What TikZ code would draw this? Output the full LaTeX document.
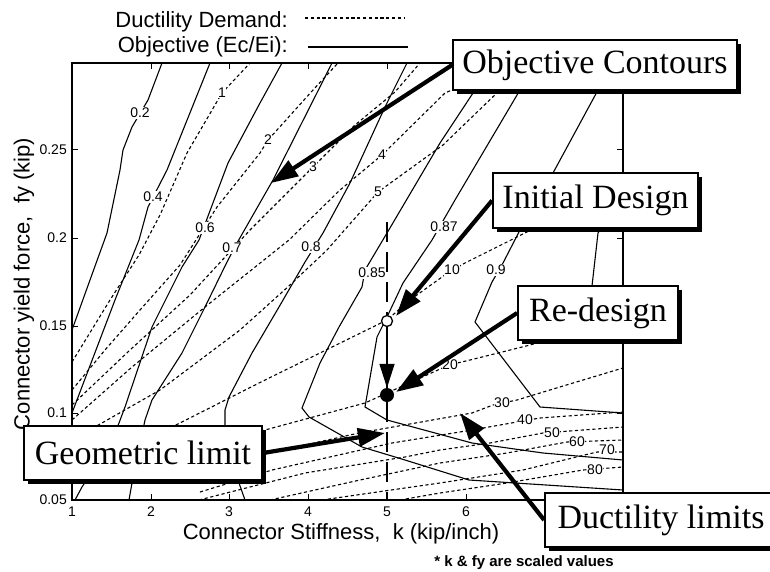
\documentclass[tikz,border=0pt]{standalone}
\usepackage{fontspec}
\setmainfont{Liberation Serif}
\setsansfont{Liberation Sans}
\usetikzlibrary{arrows.meta,shadows}
\begin{document}
\begin{tikzpicture}[x=1pt,y=-1pt,
  obj/.style={line width=1.1pt},
  duct/.style={line width=1.1pt, dash pattern=on 3.2pt off 2.6pt},
  lab/.style={font=\sffamily\fontsize{14}{14}\selectfont, fill=white, inner sep=0.6pt},
  tlab/.style={font=\sffamily\fontsize{14}{14}\selectfont, inner sep=0pt},
  axlab/.style={font=\sffamily\fontsize{22}{22}\selectfont, inner sep=0pt},
  callout/.style={draw, line width=1.8pt, fill=white, inner sep=0pt,
     font=\fontsize{34}{36}\selectfont,
     drop shadow={shadow xshift=4pt, shadow yshift=-4pt, opacity=1, fill=black}},
  pointer/.style={line width=4.2pt, -{Triangle[length=27pt,width=18pt]}}]
\useasboundingbox (0,0) rectangle (770,572);

% ---------- legend ----------
\node[axlab, anchor=base east] (legd) at (288,28) {Ductility Demand:};
\node[axlab, anchor=base east] (lego) at (288,53) {Objective (Ec/Ei):};
\coordinate (ld1) at (305,18); \coordinate (ld2) at (405,18);
\coordinate (lo1) at (308,47); \coordinate (lo2) at (408,47);
\draw[duct] (ld1) -- (ld2);
\draw[line width=1.5pt] (lo1) -- (lo2);

% ---------- objective contours (solid) ----------
\draw[obj] (162,63) -- (148,100) -- (132,127) -- (123,150) -- (120,170) -- (107,233) -- (90,280) -- (72,330);
\draw[obj] (210,63) -- (167,170) -- (148,207) -- (139,240) -- (115,300) -- (72,413);
\draw[obj] (282,63) -- (260,103) -- (228,163) -- (199,240) -- (182,267) -- (152,327) -- (125,407) -- (119,423) -- (110,445) -- (82,487) -- (75,500);
\draw[obj] (332,63) -- (273,180) -- (237,243) -- (227,262) -- (205,307) -- (182,353) -- (152,400) -- (145,420) -- (140,445) -- (132,483) -- (129,500);
\draw[obj] (407,63) -- (385,107) -- (350,183) -- (323,233) -- (305,262) -- (279,307) -- (252,353) -- (229,397) -- (225,410) -- (225,440) -- (239,483) -- (245,500);
\draw[obj] (475,90) -- (440,143) -- (387,233) -- (365,270) -- (362,287) -- (339,327) -- (320,363) -- (302,408) -- (309,417) -- (362,447) -- (405,460) -- (469,480) -- (623,490);
\draw[obj] (520,90) -- (455,200) -- (432,240) -- (403,283) -- (387,317) -- (377,337) -- (365,407) -- (387,420) -- (472,443) -- (543,453) -- (623,460);
\draw[obj] (598,90) -- (553,173) -- (520,230) -- (503,263) -- (492,282) -- (475,322) -- (540,407) -- (623,413);
\draw[obj] (623,195) -- (598,233) -- (592,286) -- (623,320);

% ---------- ductility demand contours (dashed) ----------
\draw[duct] (72,362) -- (110,300) -- (139,255) -- (160,215) -- (187,153) -- (222,93) -- (250,63);
\draw[duct] (72,390) -- (105,350) -- (140,310) -- (180,265) -- (217,207) -- (260,153) -- (268,140) -- (313,90) -- (338,63);
\draw[duct] (72,405) -- (130,350) -- (190,295) -- (250,230) -- (313,167) -- (355,125) -- (395,92) -- (420,63);
\draw[duct] (72,420) -- (132,367) -- (205,307) -- (289,240) -- (340,190) -- (382,155) -- (445,93) -- (470,82);
\draw[duct] (72,440) -- (160,390) -- (240,330) -- (290,285) -- (327,250) -- (378,192) -- (443,145) -- (500,90);
\draw[duct] (72,477) -- (172,427) -- (259,383) -- (387,320) -- (410,300) -- (449,272) -- (465,263) -- (517,237) -- (560,215);
\draw[duct] (200,450) -- (265,430) -- (365,403) -- (387,393) -- (449,365) -- (470,360) -- (530,345) -- (600,325);
\draw[duct] (200,475) -- (269,453) -- (359,433) -- (472,413) -- (493,405) -- (517,400) -- (573,383) -- (623,368);
\draw[duct] (200,492) -- (272,470) -- (392,443) -- (472,430) -- (517,422) -- (540,418) -- (623,412);
\draw[duct] (199,500) -- (305,473) -- (405,457) -- (440,450) -- (490,443) -- (543,433) -- (623,427);
\draw[duct] (270,500) -- (360,480) -- (440,463) -- (507,453) -- (567,442) -- (623,440);
\draw[duct] (322,500) -- (405,488) -- (440,483) -- (523,470) -- (597,452) -- (623,452);
\draw[duct] (400,500) -- (440,493) -- (507,483) -- (583,470) -- (623,467);

% ---------- contour labels ----------
\node[lab] (l02) at (140,113) {0.2};
\node[lab] (l04) at (153,197) {0.4};
\node[lab] (l06) at (205,228) {0.6};
\node[lab] (l07) at (232,248) {0.7};
\node[lab] (l08) at (311,247) {0.8};
\node[lab] (l085) at (372,273) {0.85};
\node[lab] (l087) at (444,227) {0.87};
\node[lab] (l09) at (496,270) {0.9};
\node[lab] (d1) at (222,93) {1};
\node[lab] (d2) at (268,140) {2};
\node[lab] (d3) at (313,167) {3};
\node[lab] (d4) at (382,155) {4};
\node[lab] (d5) at (378,192) {5};
\node[lab] (d10) at (452,270) {10};
\node[lab] (d20) at (450,365) {20};
\node[lab] (d30) at (502,403) {30};
\node[lab] (d40) at (525,420) {40};
\node[lab] (d50) at (552,433) {50};
\node[lab] (d60) at (577,442) {60};
\node[lab] (d70) at (607,450) {70};
\node[lab] (d80) at (595,470) {80};

% ---------- frame and ticks ----------
\draw[line width=1.4pt] (72,63) rectangle (623,500);
\foreach \x in {151,229,308,387,466,544} {
  \draw[line width=1pt] (\x,500) -- (\x,494);
  \draw[line width=1pt] (\x,63) -- (\x,69);
}
\foreach \y in {150,238,326,413} {
  \draw[line width=1pt] (72,\y) -- (78,\y);
  \draw[line width=1pt] (623,\y) -- (617,\y);
}
\foreach \x/\t [count=\i] in {72/1,151/2,229/3,308/4,387/5,466/6} {
  \node[tlab] (xt\i) at (\x,512) {\t};
}
\foreach \y/\t [count=\i] in {150/0.25,238/0.2,326/0.15,413/0.1,500/0.05} {
  \node[tlab, anchor=east] (yt\i) at (67,\y) {\t};
}
\node[axlab, anchor=base] (xlab) at (341,539) {Connector Stiffness,\ \ k (kip/inch)};
\node[axlab, rotate=90] (ylab) at (24,284) {Connector yield force,\ \ fy (kip)};
\node[font=\sffamily\bfseries\fontsize{15}{15}\selectfont, inner sep=0pt] (note) at (524,563) {* k \& fy are scaled values};

% ---------- geometric limit and design points ----------
\coordinate (gtop) at (387,222);
\coordinate (gbot) at (387,500);
\draw[line width=2.6pt, dash pattern=on 20pt off 10pt] (gtop) -- (gbot);
\node[circle, draw, fill=white, line width=1.3pt, minimum size=11pt, inner sep=0pt] (init) at (387,321) {};
\node[circle, fill=black, minimum size=14pt, inner sep=0pt] (redes) at (387,395) {};
\draw[line width=1.6pt, -{Triangle[length=24pt,width=15pt]}] (init) -- (redes);

% ---------- callouts ----------
\coordinate (tipOC) at (271,183);
\coordinate (tipID) at (396,316);
\coordinate (tipRD) at (396,392);
\coordinate (tipGL) at (385,433);
\coordinate (tipDL) at (460,413);

\node[callout, minimum width=284pt, minimum height=50pt] (oc) at (595,65) {Objective Contours};
\node[callout, minimum width=205pt, minimum height=55pt] (id) at (595.5,200.5) {Initial Design};
\node[callout, minimum width=160pt, minimum height=54pt] (rd) at (598,313) {Re-design};
\node[callout, minimum width=238pt, minimum height=54pt] (gl) at (143,453) {Geometric limit};
\node[callout, minimum width=232pt, minimum height=54pt] (dl) at (661,520) {Ductility limits};

\draw[pointer] (oc.west) -- (tipOC);
\draw[pointer] (id.west) -- (tipID);
\draw[pointer] (rd.west) -- (tipRD);
\draw[pointer] (gl.east) -- (tipGL);
\draw[pointer] (dl.west) -- (tipDL);
\end{tikzpicture}
\end{document}
